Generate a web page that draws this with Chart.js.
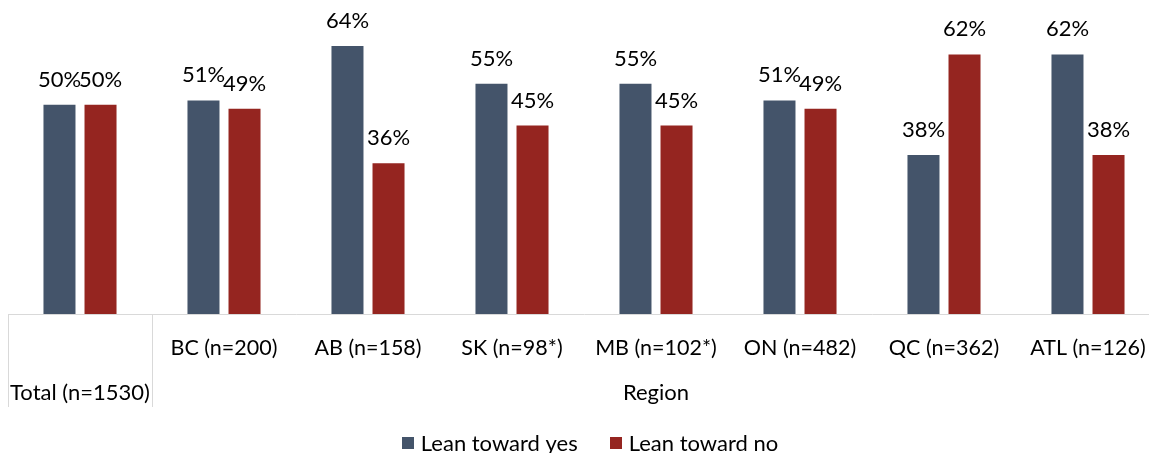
<!DOCTYPE html>
<html>
<head>
<meta charset="utf-8">
<script src="https://cdn.jsdelivr.net/npm/chart.js@4.4.1/dist/chart.umd.min.js"></script>
<style>
  html, body { margin: 0; padding: 0; background: #fff; overflow: hidden; }
  #c { display: block; }
</style>
</head>
<body>
<canvas id="c" width="1160" height="453"></canvas>
<script>
// Share leaning each way, by region
const categories = ['Total (n=1530)', 'BC (n=200)', 'AB (n=158)', 'SK (n=98*)', 'MB (n=102*)', 'ON (n=482)', 'QC (n=362)', 'ATL (n=126)'];
const leanYes = [50, 51, 64, 55, 55, 51, 38, 62];
const leanNo  = [50, 49, 36, 45, 45, 49, 62, 38];
const seriesNames = ['Lean toward yes', 'Lean toward no'];
const groupLabel = 'Region';

const FONT = 'Lato, "Noto Sans", sans-serif';
const BLUE = '#44546a';
const RED = '#952520';
const AXIS = '#d9d9d9';

// value labels above each bar
const valueLabels = {
  id: 'valueLabels',
  afterDatasetsDraw(chart) {
    const ctx = chart.ctx;
    ctx.save();
    ctx.font = '22px ' + FONT;
    ctx.fillStyle = '#000';
    ctx.textAlign = 'center';
    ctx.textBaseline = 'alphabetic';
    chart.data.datasets.forEach((ds, di) => {
      chart.getDatasetMeta(di).data.forEach((bar, i) => {
        ctx.fillText(ds.data[i] + '%', bar.x, bar.y - 18);
      });
    });
    ctx.restore();
  }
};

// two-level category axis: Total on its own, the rest grouped under Region
const groupAxis = {
  id: 'groupAxis',
  afterDraw(chart) {
    const ctx = chart.ctx;
    const x = chart.scales.x;
    const top = x.top;
    const bottom = top + 93;
    const half = (x.getPixelForValue(1) - x.getPixelForValue(0)) / 2;
    const left = x.getPixelForValue(0) - half;
    const split = x.getPixelForValue(0) + half;
    const right = x.getPixelForValue(categories.length - 1) + half;
    ctx.save();
    ctx.strokeStyle = AXIS;
    ctx.lineWidth = 1;
    [left, split, right].forEach(px => {
      const p = Math.round(px) + 0.5;
      ctx.beginPath();
      ctx.moveTo(p, top);
      ctx.lineTo(p, bottom);
      ctx.stroke();
    });
    ctx.font = '22px ' + FONT;
    ctx.fillStyle = '#000';
    ctx.textAlign = 'center';
    ctx.textBaseline = 'middle';
    ctx.fillText(categories[0], x.getPixelForValue(0), top + 79);
    ctx.fillText(groupLabel, (split + right) / 2, top + 79);
    ctx.restore();
  }
};

// series key under the axis
const seriesKey = {
  id: 'seriesKey',
  afterDraw(chart) {
    const ctx = chart.ctx;
    const box = 12, gap = 7, spacing = 32, cy = 443, cx = 590;
    ctx.save();
    ctx.font = '22px ' + FONT;
    ctx.textBaseline = 'middle';
    ctx.textAlign = 'left';
    const items = chart.data.datasets.map(ds => ({ text: ds.label, color: ds.backgroundColor, w: ctx.measureText(ds.label).width }));
    const total = items.reduce((s, it) => s + box + gap + it.w, 0) + spacing * (items.length - 1);
    let x = cx - total / 2;
    items.forEach(it => {
      ctx.fillStyle = it.color;
      ctx.fillRect(Math.round(x), cy - box / 2, box, box);
      ctx.fillStyle = '#000';
      ctx.fillText(it.text, x + box + gap, cy + 1);
      x += box + gap + it.w + spacing;
    });
    ctx.restore();
  }
};

new Chart(document.getElementById('c'), {
  type: 'bar',
  data: {
    labels: categories,
    datasets: [
      { label: seriesNames[0], data: leanYes, backgroundColor: BLUE },
      { label: seriesNames[1], data: leanNo, backgroundColor: RED }
    ]
  },
  options: {
    responsive: false,
    animation: false,
    devicePixelRatio: 1,
    datasets: { bar: { categoryPercentage: 0.57, barPercentage: 0.78 } },
    layout: { padding: { left: 8, right: 0, top: 0, bottom: 46 } },
    scales: {
      x: {
        grid: { display: false, drawTicks: false },
        border: { display: true, color: AXIS, width: 1 },
        ticks: {
          padding: 21,
          color: '#000',
          font: { family: FONT, size: 21.5 },
          maxRotation: 0,
          autoSkip: false,
          callback: (v, i) => i === 0 ? '' : categories[i]
        },
        afterFit: s => {
          s.height = 93;
          // labels sit inside their categories, so no side padding is needed
          s.paddingLeft = 0;
          s.paddingRight = 0;
        }
      },
      y: { display: false, min: 0, max: 75 }
    },
    plugins: {
      legend: { display: false },
      tooltip: { enabled: false }
    }
  },
  plugins: [valueLabels, groupAxis, seriesKey]
});
</script>
</body>
</html>
